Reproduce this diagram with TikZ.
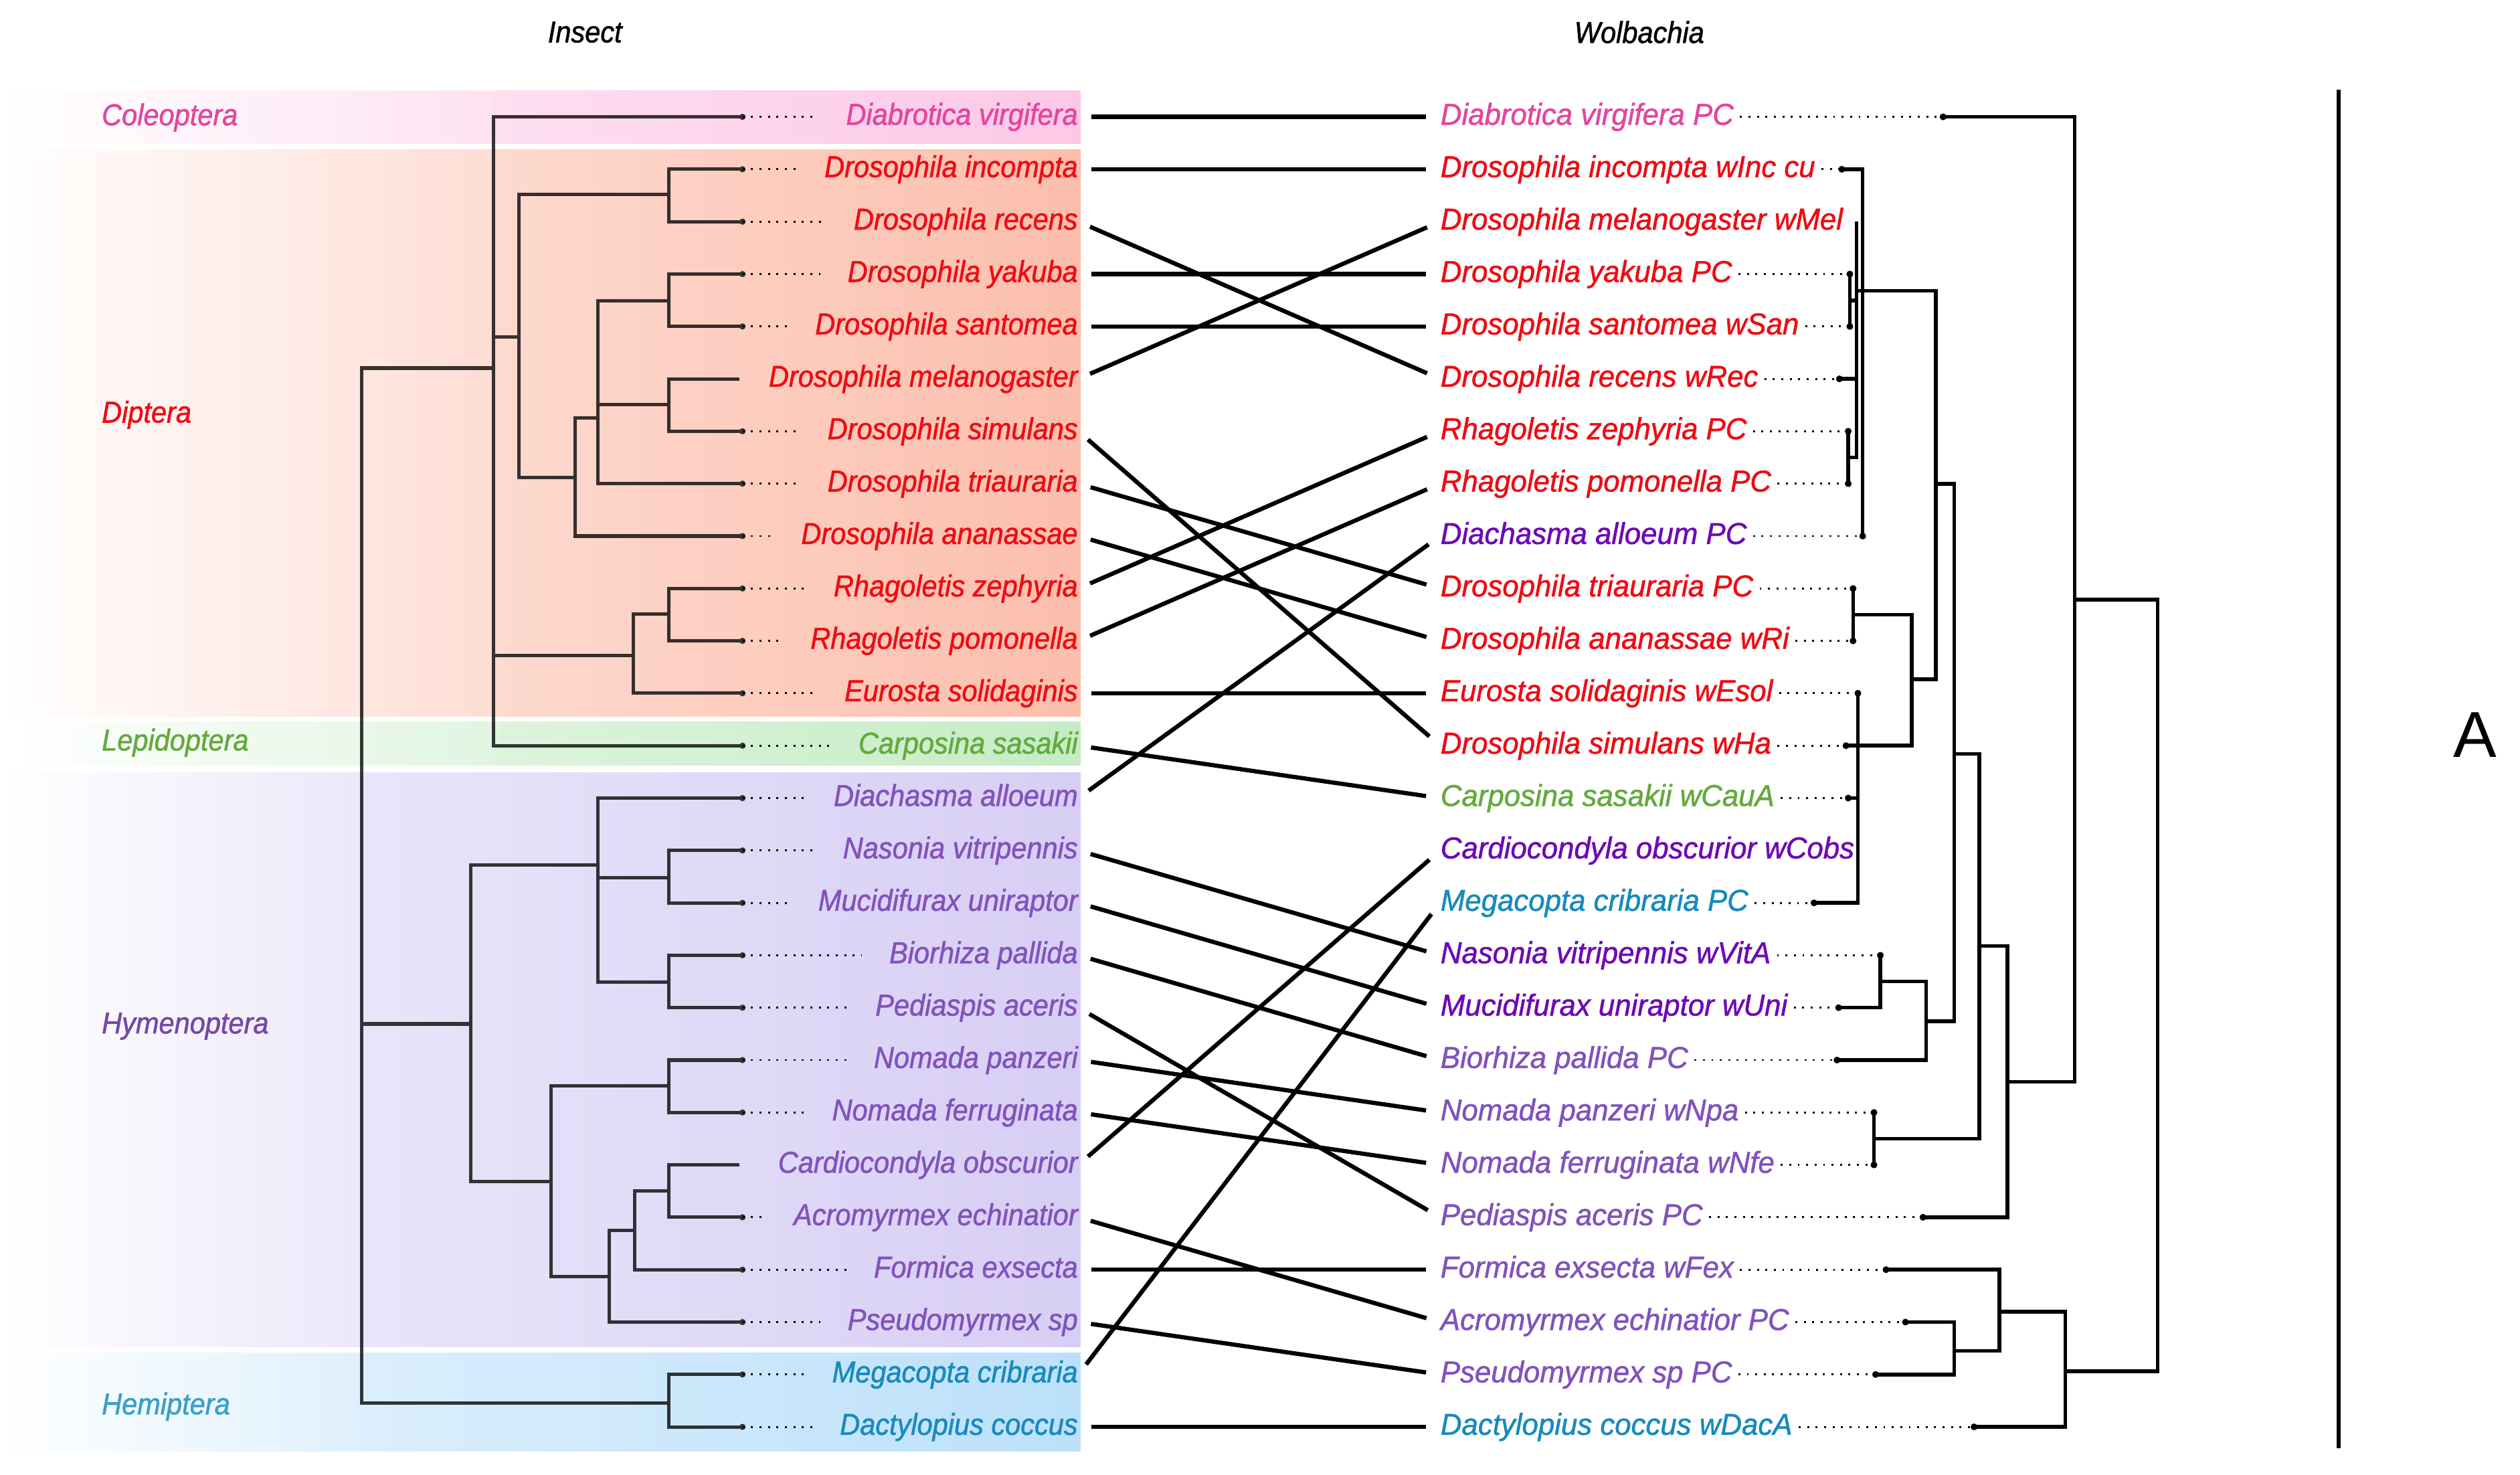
\documentclass[tikz,border=0pt]{standalone}
\usepackage{fontspec}
\setmainfont{Liberation Sans}
\newfontfamily\insfont{Liberation Sans}[FakeStretch=0.92, ItalicFeatures={FakeStretch=0.92, FakeBold=1.2}]
\newfontfamily\wolfont{Liberation Sans}[FakeStretch=0.97, ItalicFeatures={FakeStretch=0.97, FakeBold=1.2}]

\definecolor{bcole}{RGB}{252,200,230}
\definecolor{bdipt}{RGB}{252,190,172}
\definecolor{blepi}{RGB}{196,236,196}
\definecolor{bhyme}{RGB}{215,206,244}
\definecolor{bhemi}{RGB}{188,224,250}
\definecolor{tpink}{RGB}{226,70,158}
\definecolor{tred}{RGB}{238,12,20}
\definecolor{tgreen}{RGB}{100,170,62}
\definecolor{tpurp}{RGB}{130,82,188}
\definecolor{tdpurp}{RGB}{110,10,180}
\definecolor{tteal}{RGB}{24,138,188}
\definecolor{cpurp}{RGB}{118,70,168}
\definecolor{cteal}{RGB}{58,160,200}

\begin{document}
\begin{tikzpicture}[x=0.02cm, y=-0.02cm]
  \tikzstyle{every node}+=[inner sep=0pt]
  \tikzstyle{ins}=[anchor=east, text height=5.6pt, text depth=0pt, font=\insfont\itshape\fontsize{10.7}{12}\selectfont]
  \tikzstyle{wol}=[anchor=west, text height=5.6pt, text depth=0pt, font=\wolfont\itshape\fontsize{10.7}{12}\selectfont]
  \tikzstyle{order}=[anchor=west, text height=5.6pt, text depth=0pt, font=\insfont\itshape\fontsize{10.7}{12}\selectfont]
  \tikzstyle{head}=[font=\insfont\itshape\fontsize{10.7}{12}\selectfont]
  \tikzstyle{link}=[line width=1.5pt, black, shorten <=4.5pt, shorten >=5pt]
  \tikzstyle{itree}=[line width=1.2pt, black, draw opacity=0.78]
  \tikzstyle{wtree}=[line width=1.3pt, black]
  \tikzstyle{ileader}=[line width=0.7pt, dash pattern=on 0.7pt off 2.3pt, shorten >=9.5pt]
  \tikzstyle{wleader}=[line width=0.7pt, dash pattern=on 0.7pt off 2.3pt, shorten <=2pt]

  \useasboundingbox (0,0) rectangle (1568,917.6);

  \shade[left color=white, right color=bcole!52] (0,56.6) rectangle (307,89.2);
  \shade[left color=bcole!58, right color=bcole] (307,56.6) rectangle (672.5,89.2);
  \shade[left color=white, right color=bdipt!52] (0,92.9) rectangle (307,445.7);
  \shade[left color=bdipt!58, right color=bdipt] (307,92.9) rectangle (672.5,445.7);
  \shade[left color=white, right color=blepi!52] (0,449.2) rectangle (307,476.1);
  \shade[left color=blepi!58, right color=blepi] (307,449.2) rectangle (672.5,476.1);
  \shade[left color=white, right color=bhyme!48] (0,480.8) rectangle (224,838);
  \shade[left color=bhyme!54, right color=bhyme] (224,480.8) rectangle (672.5,838);
  \shade[left color=white, right color=bhemi!48] (0,841.8) rectangle (224,903);
  \shade[left color=bhemi!54, right color=bhemi] (224,841.8) rectangle (672.5,903);

  \node[head] (hIns) at (364,20) {Insect};
  \node[head] (hWol) at (1020,20) {Wolbachia};

  \node[order, tpink] (oCol) at (63,73) {Coleoptera};
  \node[order, tred] (oDip) at (63,258) {Diptera};
  \node[order, tgreen] (oLep) at (63,462) {Lepidoptera};
  \node[order, cpurp] (oHym) at (63,638) {Hymenoptera};
  \node[order, cteal] (oHem) at (63,875) {Hemiptera};

  \node[ins, tpink] (iDvir) at (671,72.7) {Diabrotica virgifera};
  \node[ins, tred] (iDinc) at (671,105.3) {Drosophila incompta};
  \node[ins, tred] (iDrec) at (671,137.9) {Drosophila recens};
  \node[ins, tred] (iDyak) at (671,170.5) {Drosophila yakuba};
  \node[ins, tred] (iDsan) at (671,203.1) {Drosophila santomea};
  \node[ins, tred] (iDmel) at (671,235.7) {Drosophila melanogaster};
  \node[ins, tred] (iDsim) at (671,268.3) {Drosophila simulans};
  \node[ins, tred] (iDtri) at (671,300.9) {Drosophila triauraria};
  \node[ins, tred] (iDana) at (671,333.5) {Drosophila ananassae};
  \node[ins, tred] (iRzep) at (671,366.1) {Rhagoletis zephyria};
  \node[ins, tred] (iRpom) at (671,398.7) {Rhagoletis pomonella};
  \node[ins, tred] (iEsol) at (671,431.3) {Eurosta solidaginis};
  \node[ins, tgreen] (iCsas) at (671,463.9) {Carposina sasakii};
  \node[ins, tpurp] (iDall) at (671,496.5) {Diachasma alloeum};
  \node[ins, tpurp] (iNvit) at (671,529.1) {Nasonia vitripennis};
  \node[ins, tpurp] (iMuni) at (671,561.7) {Mucidifurax uniraptor};
  \node[ins, tpurp] (iBpal) at (671,594.3) {Biorhiza pallida};
  \node[ins, tpurp] (iPace) at (671,626.9) {Pediaspis aceris};
  \node[ins, tpurp] (iNpan) at (671,659.5) {Nomada panzeri};
  \node[ins, tpurp] (iNfer) at (671,692.1) {Nomada ferruginata};
  \node[ins, tpurp] (iCobs) at (671,724.7) {Cardiocondyla obscurior};
  \node[ins, tpurp] (iAech) at (671,757.3) {Acromyrmex echinatior};
  \node[ins, tpurp] (iFexs) at (671,789.9) {Formica exsecta};
  \node[ins, tpurp] (iPsp) at (671,822.5) {Pseudomyrmex sp};
  \node[ins, tteal] (iMcri) at (671,855.1) {Megacopta cribraria};
  \node[ins, tteal] (iDcoc) at (671,887.7) {Dactylopius coccus};

  \node[wol, tpink] (wDvir) at (896,72.7) {Diabrotica virgifera PC};
  \node[wol, tred] (wDinc) at (896,105.3) {Drosophila incompta wInc cu};
  \node[wol, tred] (wDmel) at (896,137.9) {Drosophila melanogaster wMel};
  \node[wol, tred] (wDyak) at (896,170.5) {Drosophila yakuba PC};
  \node[wol, tred] (wDsan) at (896,203.1) {Drosophila santomea wSan};
  \node[wol, tred] (wDrec) at (896,235.7) {Drosophila recens wRec};
  \node[wol, tred] (wRzep) at (896,268.3) {Rhagoletis zephyria PC};
  \node[wol, tred] (wRpom) at (896,300.9) {Rhagoletis pomonella PC};
  \node[wol, tdpurp] (wDall) at (896,333.5) {Diachasma alloeum PC};
  \node[wol, tred] (wDtri) at (896,366.1) {Drosophila triauraria PC};
  \node[wol, tred] (wDana) at (896,398.7) {Drosophila ananassae wRi};
  \node[wol, tred] (wEsol) at (896,431.3) {Eurosta solidaginis wEsol};
  \node[wol, tred] (wDsim) at (896,463.9) {Drosophila simulans wHa};
  \node[wol, tgreen] (wCsas) at (896,496.5) {Carposina sasakii wCauA};
  \node[wol, tdpurp] (wCobs) at (896,529.1) {Cardiocondyla obscurior wCobs};
  \node[wol, tteal] (wMcri) at (896,561.7) {Megacopta cribraria PC};
  \node[wol, tdpurp] (wNvit) at (896,594.3) {Nasonia vitripennis wVitA};
  \node[wol, tdpurp] (wMuni) at (896,626.9) {Mucidifurax uniraptor wUni};
  \node[wol, tpurp] (wBpal) at (896,659.5) {Biorhiza pallida PC};
  \node[wol, tpurp] (wNpan) at (896,692.1) {Nomada panzeri wNpa};
  \node[wol, tpurp] (wNfer) at (896,724.7) {Nomada ferruginata wNfe};
  \node[wol, tpurp] (wPace) at (896,757.3) {Pediaspis aceris PC};
  \node[wol, tpurp] (wFexs) at (896,789.9) {Formica exsecta wFex};
  \node[wol, tpurp] (wAech) at (896,822.5) {Acromyrmex echinatior PC};
  \node[wol, tpurp] (wPsp) at (896,855.1) {Pseudomyrmex sp PC};
  \node[wol, tteal] (wDcoc) at (896,887.7) {Dactylopius coccus wDacA};

  \coordinate (lDvir) at (462,72.7);
  \coordinate (lDinc) at (462,105.3);
  \coordinate (lDrec) at (462,137.9);
  \coordinate (lDyak) at (462,170.5);
  \coordinate (lDsan) at (462,203.1);
  \coordinate (lDmel) at (460,235.7);
  \coordinate (lDsim) at (462,268.3);
  \coordinate (lDtri) at (462,300.9);
  \coordinate (lDana) at (462,333.5);
  \coordinate (lRzep) at (462,366.1);
  \coordinate (lRpom) at (462,398.7);
  \coordinate (lEsol) at (462,431.3);
  \coordinate (lCsas) at (462,463.9);
  \coordinate (lDall) at (462,496.5);
  \coordinate (lNvit) at (462,529.1);
  \coordinate (lMuni) at (462,561.7);
  \coordinate (lBpal) at (462,594.3);
  \coordinate (lPace) at (462,626.9);
  \coordinate (lNpan) at (462,659.5);
  \coordinate (lNfer) at (462,692.1);
  \coordinate (lCobs) at (460,724.7);
  \coordinate (lAech) at (462,757.3);
  \coordinate (lFexs) at (462,789.9);
  \coordinate (lPsp) at (462,822.5);
  \coordinate (lMcri) at (462,855.1);
  \coordinate (lDcoc) at (462,887.7);

  \coordinate (nRoot) at (225,637);
  \coordinate (nCDL) at (307,229);
  \coordinate (nD1) at (323,209.5);
  \coordinate (nIR) at (416,121);
  \coordinate (nX) at (358,297);
  \coordinate (nY) at (372,260);
  \coordinate (nYS) at (416,187);
  \coordinate (nMS) at (416,251.7);
  \coordinate (nD2) at (394,408);
  \coordinate (nRh) at (416,382);
  \coordinate (nHym) at (293,637);
  \coordinate (nH1) at (372,538);
  \coordinate (nNM) at (416,546);
  \coordinate (nBP) at (416,611);
  \coordinate (nH2) at (343,735);
  \coordinate (nNom) at (416,675.7);
  \coordinate (nH3) at (379,794);
  \coordinate (nH4) at (395,765.6);
  \coordinate (nCA) at (416,741);
  \coordinate (nHem) at (416,873);

  \draw[itree] (nCDL) -| (nRoot) |- (nHem) (nHym) -- (nRoot |- nHym)
    (lDvir) -| (nCDL) |- (lCsas) (nD1) -- (nCDL |- nD1) (nD2) -- (nCDL |- nD2)
    (nIR) -| (nD1) |- (nX)
    (lDinc) -| (nIR) |- (lDrec)
    (nY) -| (nX) |- (lDana)
    (nYS) -| (nY) |- (lDtri) (nMS) -- (nY |- nMS)
    (lDyak) -| (nYS) |- (lDsan)
    (lDmel) -| (nMS) |- (lDsim)
    (nRh) -| (nD2) |- (lEsol)
    (lRzep) -| (nRh) |- (lRpom)
    (nH1) -| (nHym) |- (nH2)
    (lDall) -| (nH1) |- (nBP) (nNM) -- (nH1 |- nNM)
    (lNvit) -| (nNM) |- (lMuni)
    (lBpal) -| (nBP) |- (lPace)
    (nNom) -| (nH2) |- (nH3)
    (lNpan) -| (nNom) |- (lNfer)
    (nH4) -| (nH3) |- (lPsp)
    (nCA) -| (nH4) |- (lFexs)
    (lCobs) -| (nCA) |- (lAech)
    (lMcri) -| (nHem) |- (lDcoc);

  \fill[black!80] (lDvir) circle (1.1pt) (lDinc) circle (1.1pt) (lDrec) circle (1.1pt)
    (lDyak) circle (1.1pt) (lDsan) circle (1.1pt) (lDsim) circle (1.1pt)
    (lDtri) circle (1.1pt) (lDana) circle (1.1pt) (lRzep) circle (1.1pt)
    (lRpom) circle (1.1pt) (lEsol) circle (1.1pt) (lCsas) circle (1.1pt)
    (lDall) circle (1.1pt) (lNvit) circle (1.1pt) (lMuni) circle (1.1pt)
    (lBpal) circle (1.1pt) (lPace) circle (1.1pt) (lNpan) circle (1.1pt)
    (lNfer) circle (1.1pt) (lAech) circle (1.1pt) (lFexs) circle (1.1pt)
    (lPsp) circle (1.1pt) (lMcri) circle (1.1pt) (lDcoc) circle (1.1pt);

  \draw[ileader] (lDvir) -- (iDvir.west);
  \draw[ileader] (lDinc) -- (iDinc.west);
  \draw[ileader] (lDrec) -- (iDrec.west);
  \draw[ileader] (lDyak) -- (iDyak.west);
  \draw[ileader] (lDsan) -- (iDsan.west);
  \draw[ileader] (lDsim) -- (iDsim.west);
  \draw[ileader] (lDtri) -- (iDtri.west);
  \draw[ileader] (lDana) -- (iDana.west);
  \draw[ileader] (lRzep) -- (iRzep.west);
  \draw[ileader] (lRpom) -- (iRpom.west);
  \draw[ileader] (lEsol) -- (iEsol.west);
  \draw[ileader] (lCsas) -- (iCsas.west);
  \draw[ileader] (lDall) -- (iDall.west);
  \draw[ileader] (lNvit) -- (iNvit.west);
  \draw[ileader] (lMuni) -- (iMuni.west);
  \draw[ileader] (lBpal) -- (iBpal.west);
  \draw[ileader] (lPace) -- (iPace.west);
  \draw[ileader] (lNpan) -- (iNpan.west);
  \draw[ileader] (lNfer) -- (iNfer.west);
  \draw[ileader] (lAech) -- (iAech.west);
  \draw[ileader] (lFexs) -- (iFexs.west);
  \draw[ileader] (lPsp) -- (iPsp.west);
  \draw[ileader] (lMcri) -- (iMcri.west);
  \draw[ileader] (lDcoc) -- (iDcoc.west);

  \coordinate (dDvir) at (1209,72.7);
  \coordinate (dDinc) at (1146,105.3);
  \coordinate (dDmel) at (1155.2,137.9);
  \coordinate (dDyak) at (1151,170.5);
  \coordinate (dDsan) at (1151,203.1);
  \coordinate (dDrec) at (1144.5,235.7);
  \coordinate (dRzep) at (1150,268.3);
  \coordinate (dRpom) at (1150,300.9);
  \coordinate (dDall) at (1159,333.5);
  \coordinate (dDtri) at (1153,366.1);
  \coordinate (dDana) at (1153,398.7);
  \coordinate (dEsol) at (1156,431.3);
  \coordinate (dDsim) at (1148.6,463.9);
  \coordinate (dCsas) at (1150,496.5);
  \coordinate (dMcri) at (1128.7,561.7);
  \coordinate (dNvit) at (1170,594.3);
  \coordinate (dMuni) at (1144,626.9);
  \coordinate (dBpal) at (1143,659.5);
  \coordinate (dNpan) at (1166,692.1);
  \coordinate (dNfer) at (1166,724.7);
  \coordinate (dPace) at (1196.5,757.3);
  \coordinate (dFexs) at (1173.5,789.9);
  \coordinate (dAech) at (1185.6,822.5);
  \coordinate (dPsp) at (1167,855.1);
  \coordinate (dDcoc) at (1228.3,887.7);

  \coordinate (bRoot) at (1342.6,600);
  \coordinate (bA) at (1291,373);
  \coordinate (bB) at (1285,853);
  \coordinate (bC) at (1249,673);
  \coordinate (bD) at (1231.6,588.4);
  \coordinate (bE) at (1216,469);
  \coordinate (bF) at (1166,708.5);
  \coordinate (bG) at (1204.5,301);
  \coordinate (bH) at (1198.5,635.3);
  \coordinate (bI) at (1170,610.6);
  \coordinate (bJ) at (1159,181);
  \coordinate (bK) at (1189.5,422.6);
  \coordinate (bL) at (1153,382.4);
  \coordinate (bM) at (1156,463.9);
  \coordinate (bN) at (1155.2,181);
  \coordinate (bYS) at (1151,187);
  \coordinate (bRh) at (1150,284.6);
  \coordinate (bP) at (1244,816);
  \coordinate (bQ) at (1216,840.4);

  \draw[wtree] (bA) -| (bRoot) |- (bB)
    (dDvir) -| (bA) |- (bC)
    (bD) -| (bC) |- (dPace)
    (bE) -| (bD) |- (bF)
    (bG) -| (bE) |- (bH)
    (bJ) -| (bG) |- (bK)
    (dDinc) -| (bJ) |- (dDall) (bN) -- (bJ |- bN)
    (dDmel) -| (bN) |- (bRh) (bYS) -- (bN |- bYS) (dDrec) -- (bN |- dDrec)
    (dDyak) -| (bYS) |- (dDsan)
    (dRzep) -| (bRh) |- (dRpom)
    (bL) -| (bK) |- (bM)
    (dDtri) -| (bL) |- (dDana)
    (dEsol) -| (bM) |- (dMcri) (dDsim) -- (bM |- dDsim) (dCsas) -- (bM |- dCsas)
    (bI) -| (bH) |- (dBpal)
    (dNvit) -| (bI) |- (dMuni)
    (dNpan) -| (bF) |- (dNfer)
    (bP) -| (bB) |- (dDcoc)
    (dFexs) -| (bP) |- (bQ)
    (dAech) -| (bQ) |- (dPsp);

  \fill (dDvir) circle (1.2pt) (dDinc) circle (1.2pt) (dDyak) circle (1.2pt)
    (dDsan) circle (1.2pt) (dDrec) circle (1.2pt) (dRzep) circle (1.2pt)
    (dRpom) circle (1.2pt) (dDall) circle (1.2pt) (dDtri) circle (1.2pt)
    (dDana) circle (1.2pt) (dEsol) circle (1.2pt) (dDsim) circle (1.2pt)
    (dCsas) circle (1.2pt) (dMcri) circle (1.2pt) (dNvit) circle (1.2pt)
    (dMuni) circle (1.2pt) (dBpal) circle (1.2pt) (dNpan) circle (1.2pt)
    (dNfer) circle (1.2pt) (dPace) circle (1.2pt) (dFexs) circle (1.2pt)
    (dAech) circle (1.2pt) (dPsp) circle (1.2pt) (dDcoc) circle (1.2pt);

  \draw[wleader] (wDvir.east) -- (dDvir);
  \draw[wleader] (wDinc.east) -- (dDinc);
  \draw[wleader] (wDyak.east) -- (dDyak);
  \draw[wleader] (wDsan.east) -- (dDsan);
  \draw[wleader] (wDrec.east) -- (dDrec);
  \draw[wleader] (wRzep.east) -- (dRzep);
  \draw[wleader] (wRpom.east) -- (dRpom);
  \draw[wleader] (wDall.east) -- (dDall);
  \draw[wleader] (wDtri.east) -- (dDtri);
  \draw[wleader] (wDana.east) -- (dDana);
  \draw[wleader] (wEsol.east) -- (dEsol);
  \draw[wleader] (wDsim.east) -- (dDsim);
  \draw[wleader] (wCsas.east) -- (dCsas);
  \draw[wleader] (wMcri.east) -- (dMcri);
  \draw[wleader] (wNvit.east) -- (dNvit);
  \draw[wleader] (wMuni.east) -- (dMuni);
  \draw[wleader] (wBpal.east) -- (dBpal);
  \draw[wleader] (wNpan.east) -- (dNpan);
  \draw[wleader] (wNfer.east) -- (dNfer);
  \draw[wleader] (wPace.east) -- (dPace);
  \draw[wleader] (wFexs.east) -- (dFexs);
  \draw[wleader] (wAech.east) -- (dAech);
  \draw[wleader] (wPsp.east) -- (dPsp);
  \draw[wleader] (wDcoc.east) -- (dDcoc);

  \draw[link] (iDvir.east) -- (wDvir.west);
  \draw[link] (iDinc.east) -- (wDinc.west);
  \draw[link] (iDrec.east) -- (wDrec.west);
  \draw[link] (iDyak.east) -- (wDyak.west);
  \draw[link] (iDsan.east) -- (wDsan.west);
  \draw[link] (iDmel.east) -- (wDmel.west);
  \draw[link] (iDsim.east) -- (wDsim.west);
  \draw[link] (iDtri.east) -- (wDtri.west);
  \draw[link] (iDana.east) -- (wDana.west);
  \draw[link] (iRzep.east) -- (wRzep.west);
  \draw[link] (iRpom.east) -- (wRpom.west);
  \draw[link] (iEsol.east) -- (wEsol.west);
  \draw[link] (iCsas.east) -- (wCsas.west);
  \draw[link] (iDall.east) -- (wDall.west);
  \draw[link] (iNvit.east) -- (wNvit.west);
  \draw[link] (iMuni.east) -- (wMuni.west);
  \draw[link] (iBpal.east) -- (wBpal.west);
  \draw[link] (iPace.east) -- (wPace.west);
  \draw[link] (iNpan.east) -- (wNpan.west);
  \draw[link] (iNfer.east) -- (wNfer.west);
  \draw[link] (iCobs.east) -- (wCobs.west);
  \draw[link] (iAech.east) -- (wAech.west);
  \draw[link] (iFexs.east) -- (wFexs.west);
  \draw[link] (iPsp.east) -- (wPsp.west);
  \draw[link] (iMcri.east) -- (wMcri.west);
  \draw[link] (iDcoc.east) -- (wDcoc.west);

  \coordinate (barTop) at (1455,55.6);
  \coordinate (barBot) at (1455,901);
  \draw[line width=1.4pt] (barTop) -- (barBot);
  \node[font=\fontsize{23}{27}\selectfont] (pA) at (1540,457) {A};
\end{tikzpicture}
\end{document}
